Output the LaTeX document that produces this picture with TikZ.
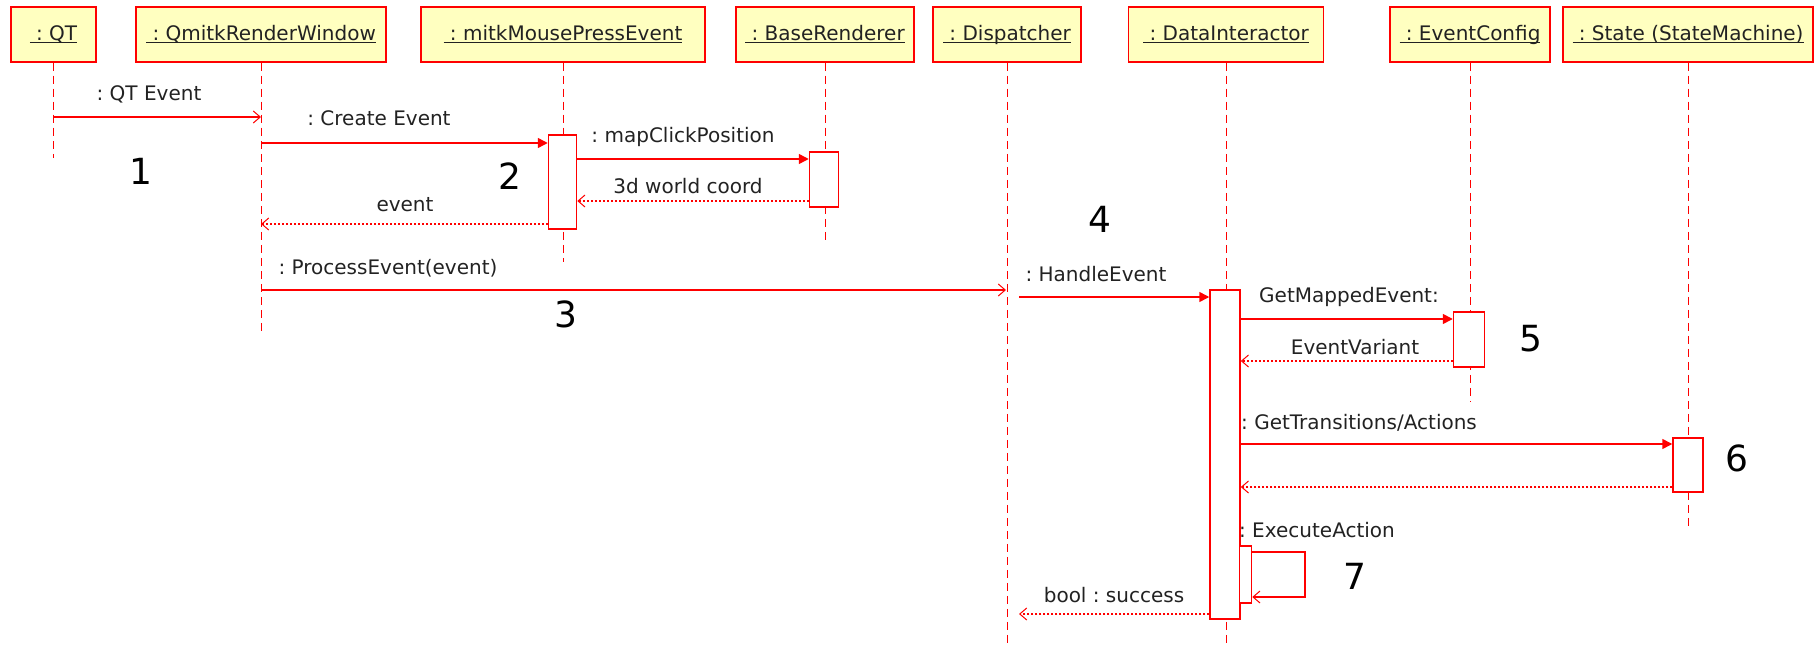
\documentclass[tikz,border=0pt]{standalone}
\usepackage{fontspec}
\setmainfont{DejaVu Sans}
\usetikzlibrary{arrows.meta}
\definecolor{umlred}{RGB}{255,0,0}
\definecolor{umlfill}{RGB}{255,255,192}
\definecolor{umltext}{RGB}{34,34,34}
\frenchspacing
% underlined object name (UML instance notation)
\newcommand\objlabel[1]{\sbox0{#1}\leavevmode\rlap{\rule[-1.4pt]{\wd0}{0.6pt}}\usebox0}
\begin{document}
\begin{tikzpicture}[x=0.5pt,y=-0.5pt,
  every node/.style={font=\fontsize{10}{12}\selectfont,text=umltext},
  obj/.style={draw=umlred,fill=umlfill,line width=0.75pt,minimum height=27.5pt,inner sep=0pt},
  act/.style={draw=umlred,fill=white,line width=0.75pt,inner sep=0pt},
  lifeline/.style={draw=umlred,line width=0.5pt,dash pattern=on 4pt off 2.5pt},
  call/.style={draw=umlred,line width=0.75pt,-{Straight Barb[length=3.5pt,width=6pt,line width=0.5pt]}},
  sync/.style={draw=umlred,line width=0.75pt,-{Triangle[length=5pt,width=5pt]}},
  reply/.style={draw=umlred,line width=0.75pt,dash pattern=on 1pt off 1pt,-{Straight Barb[length=3.5pt,width=6pt,line width=0.5pt]}},
  lbl/.style={inner sep=0pt,text height=0.73em,text depth=0pt},
  stepno/.style={inner sep=0pt,font=\fontsize{18}{22}\selectfont,text=black,text height=0.73em,text depth=0pt}
]
\useasboundingbox (0,0) rectangle (1819,647);

% object heads
\node[obj,minimum width=42.5pt] (qt)   at (53.5,34.5) {\objlabel{\ : QT}};
\node[obj,minimum width=125pt]  (rw)   at (261,34.5)  {\objlabel{\ : QmitkRenderWindow}};
\node[obj,minimum width=142pt]  (mpe)  at (563,34.5)  {\objlabel{\ : mitkMousePressEvent}};
\node[obj,minimum width=89pt]   (br)   at (825,34.5)  {\objlabel{\ : BaseRenderer}};
\node[obj,minimum width=74pt]   (disp) at (1007,34.5) {\objlabel{\ : Dispatcher}};
\node[obj,minimum width=97.5pt] (di)   at (1226,34.5) {\objlabel{\ : DataInteractor}};
\node[obj,minimum width=80pt]   (ec)   at (1470,34.5) {\objlabel{\ : EventConfig}};
\node[obj,minimum width=125pt]  (sm)   at (1688,34.5) {\objlabel{\ : State (StateMachine)}};

% lifeline ends
\coordinate (qtE)   at (53.5,158);
\coordinate (rwE)   at (261,332);
\coordinate (mpeE)  at (563,262);
\coordinate (brE)   at (825,241);
\coordinate (dispE) at (1007,647);
\coordinate (diE)   at (1226,647);
\coordinate (ecE)   at (1470,401);
\coordinate (smE)   at (1688,527);

\foreach \o in {qt,rw,mpe,br,disp,di,ec,sm}
  \draw[lifeline] (\o.south) -- (\o E);

% activation bars
\node[act,minimum width=14pt,minimum height=47pt]   (a1) at (562.5,182)  {};
\node[act,minimum width=14.5pt,minimum height=27.5pt] (a2) at (824,179.5) {};
\node[act,minimum width=15pt,minimum height=164.5pt] (a3) at (1225,454.5) {};
\node[act,minimum width=15.5pt,minimum height=27.5pt] (a4) at (1469,339.5) {};
\node[act,minimum width=15pt,minimum height=27pt]   (a5) at (1688,465)   {};
\node[act,minimum width=6pt,minimum height=28.5pt]  (a6) at (1245.5,574.5) {};

% message anchors on lifelines
\coordinate (m1s) at (53.5,117);
\coordinate (m1e) at (261,117);
\coordinate (m2s) at (261,143);
\coordinate (m5e) at (261,224);
\coordinate (m6s) at (261,290);
\coordinate (m6e) at (1006,290);
\coordinate (m7s) at (1019,297);
\coordinate (m13e) at (1019,614);
\coordinate (s2) at (1305,552);
\coordinate (s3) at (1305,597);

% messages
\draw[call]  (m1s) -- (m1e);
\draw[sync]  (m2s) -- (a1.west |- m2s);
\draw[sync]  (a1.east |- 0,159) -- (a2.west |- 0,159);
\draw[reply] (a2.west |- 0,201) -- (a1.east |- 0,201);
\draw[reply] (a1.west |- m5e) -- (m5e);
\draw[call]  (m6s) -- (m6e);
\draw[sync]  (m7s) -- (a3.west |- m7s);
\draw[sync]  (a3.east |- 0,319) -- (a4.west |- 0,319);
\draw[reply] (a4.west |- 0,361) -- (a3.east |- 0,361);
\draw[sync]  (a3.east |- 0,444) -- (a5.west |- 0,444);
\draw[reply] (a5.west |- 0,487) -- (a3.east |- 0,487);
\draw[call]  (a6.east |- s2) -- (s2) -- (s3) -- (a6.east |- s3);
\draw[reply] (a3.west |- m13e) -- (m13e);

% message labels
\node[lbl] (t1)  at (149,93)   {: QT Event};
\node[lbl] (t2)  at (379,118)  {: Create Event};
\node[lbl] (t3)  at (683,135)  {: mapClickPosition};
\node[lbl] (t4)  at (688,186)  {3d world coord};
\node[lbl] (t5)  at (405,204)  {event};
\node[lbl] (t6)  at (388,267)  {: ProcessEvent(event)};
\node[lbl] (t7)  at (1096,274) {: HandleEvent};
\node[lbl] (t8)  at (1349,295) {GetMappedEvent:};
\node[lbl] (t9)  at (1355,347) {EventVariant};
\node[lbl] (t10) at (1359,422) {: GetTransitions/Actions};
\node[lbl] (t11) at (1317,530) {: ExecuteAction};
\node[lbl] (t12) at (1114,595) {bool : success};

% step numbers
\node[stepno] (n1) at (141,177)  {1};
\node[stepno] (n2) at (510,182)  {2};
\node[stepno] (n3) at (566,320)  {3};
\node[stepno] (n4) at (1100,225) {4};
\node[stepno] (n5) at (1531,344) {5};
\node[stepno] (n6) at (1737,464) {6};
\node[stepno] (n7) at (1355,582) {7};
\end{tikzpicture}
\end{document}
